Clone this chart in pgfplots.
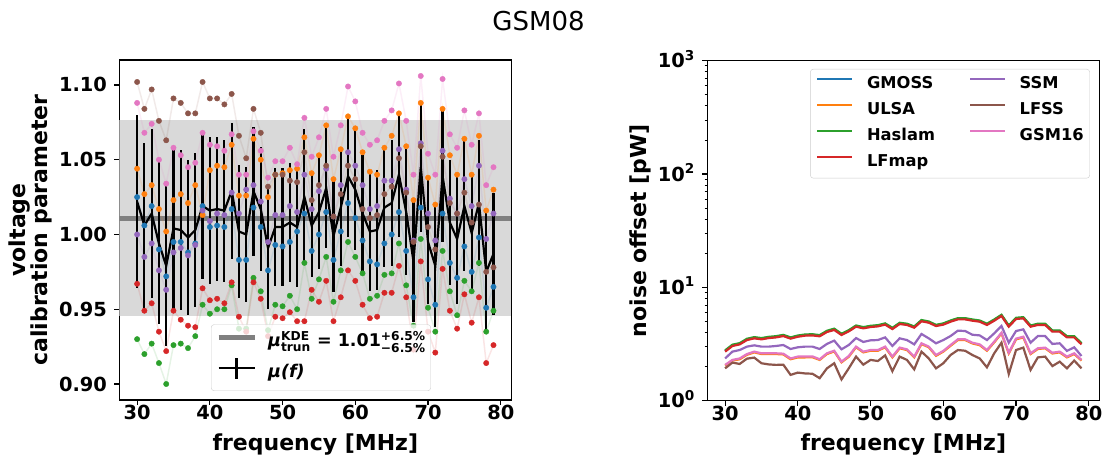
\documentclass[border=0pt]{standalone}
\usepackage{amsmath}
\usepackage{pgfplots}
\pgfplotsset{compat=1.18}
\usepackage{pgfplotstable}
\usepackage{fontspec}
\setmainfont{DejaVu Sans}[BoldFont={DejaVu Sans Bold},ItalicFont={DejaVu Sans Oblique},BoldItalicFont={DejaVu Sans Bold Oblique}]
\definecolor{tabblue}{HTML}{1F77B4}
\definecolor{taborange}{HTML}{FF7F0E}
\definecolor{tabgreen}{HTML}{2CA02C}
\definecolor{tabred}{HTML}{D62728}
\definecolor{tabpurple}{HTML}{9467BD}
\definecolor{tabbrown}{HTML}{8C564B}
\definecolor{tabpink}{HTML}{E377C2}
\definecolor{bandgray}{HTML}{D9D9D9}
\definecolor{linegray}{HTML}{808080}

% voltage calibration parameter per sky model, mean and std
\pgfplotstableread{
f br pk or bl pu rd gr m s
30 1.102 1.088 1.044 1.025 1.000 0.967 0.930 1.022 0.0576
31 1.084 1.068 1.027 1.006 0.985 0.949 0.920 1.006 0.0552
32 1.097 1.074 1.033 1.019 0.994 0.954 0.927 1.014 0.0566
33 1.076 1.050 1.017 0.990 0.976 0.935 0.914 0.994 0.0542
34 1.063 1.034 1.002 0.972 0.963 0.922 0.900 0.979 0.0537
35 1.091 1.058 1.023 0.995 0.988 0.949 0.926 1.004 0.0539
36 1.088 1.053 1.027 0.995 0.991 0.943 0.927 1.003 0.0532
37 1.081 1.045 1.021 0.988 0.986 0.939 0.924 0.998 0.0517
38 1.081 1.048 1.033 0.994 0.993 0.938 0.932 1.003 0.0514
39 1.102 1.068 1.013 1.019 1.016 0.964 0.953 1.019 0.0490
40 1.091 1.060 1.043 1.005 1.009 0.956 0.947 1.016 0.0491
41 1.091 1.059 1.046 1.006 1.014 0.957 0.950 1.017 0.0482
42 1.087 1.056 1.045 1.005 1.013 0.954 0.950 1.016 0.0475
43 1.094 1.067 1.060 1.017 1.028 0.968 0.966 1.029 0.0455
44 1.066 1.040 1.026 0.983 1.014 0.945 0.937 1.002 0.0446
45 1.051 1.040 1.026 0.983 1.030 0.935 0.937 1.000 0.0450
46 1.084 1.069 1.064 1.018 1.033 0.968 0.971 1.029 0.0431
47 1.068 1.056 1.050 1.005 1.022 0.957 0.962 1.017 0.0415
48 1.032 1.038 1.025 0.976 0.995 0.932 0.936 0.991 0.0410
49 1.040 1.049 1.040 0.993 1.013 0.945 0.953 1.005 0.0394
50 1.040 1.049 1.041 0.992 1.013 0.944 0.952 1.005 0.0397
51 1.036 1.058 1.043 0.995 1.019 0.948 0.959 1.008 0.0395
52 1.035 1.047 1.044 1.002 1.015 0.942 0.950 1.005 0.0403
53 1.055 1.078 1.065 1.014 1.040 0.942 0.981 1.025 0.0455
54 1.023 1.052 1.041 0.989 1.017 0.963 0.957 1.006 0.0342
55 1.033 1.065 1.053 1.000 1.029 0.955 0.970 1.015 0.0382
56 1.046 1.084 1.073 1.015 1.044 0.969 0.985 1.031 0.0399
57 1.012 1.052 1.037 0.983 1.012 0.942 0.955 0.999 0.0378
58 1.027 1.073 1.057 1.002 1.033 0.958 0.976 1.018 0.0388
59 1.046 1.099 1.079 1.021 1.055 0.976 0.995 1.039 0.0410
60 1.037 1.089 1.071 1.011 1.046 0.969 0.985 1.030 0.0406
61 1.017 1.068 1.055 0.996 1.033 0.953 0.974 1.014 0.0391
62 1.011 1.060 1.042 0.982 1.017 0.944 0.957 1.002 0.0397
63 1.013 1.063 1.040 0.980 1.019 0.945 0.959 1.003 0.0399
64 1.027 1.076 1.058 0.994 1.036 0.961 0.973 1.018 0.0400
65 1.032 1.083 1.066 1.000 1.036 0.961 0.974 1.021 0.0421
66 1.051 1.101 1.081 1.015 1.057 0.979 0.994 1.040 0.0419
67 1.028 1.076 1.059 0.989 1.030 0.958 0.966 1.015 0.0421
68 0.995 1.040 1.023 0.958 0.996 0.923 0.939 0.982 0.0403
69 1.059 1.106 1.088 1.018 1.061 0.982 0.997 1.045 0.0433
70 1.005 1.054 1.038 0.970 1.014 0.935 0.951 0.995 0.0415
71 0.990 1.040 1.020 0.953 0.996 0.921 0.935 0.979 0.0410
72 1.052 1.104 1.084 1.014 1.056 0.977 0.989 1.039 0.0442
73 1.021 1.067 1.053 0.981 1.024 0.949 0.962 1.008 0.0418
74 1.014 1.058 1.040 0.971 1.014 0.937 0.946 0.997 0.0432
75 1.028 1.083 1.064 0.992 1.037 0.960 0.969 1.019 0.0435
76 1.008 1.060 1.040 0.975 1.019 0.941 0.962 1.001 0.0400
77 1.020 1.081 1.066 0.998 1.046 0.958 0.981 1.021 0.0419
78 0.975 1.033 1.016 0.951 0.997 0.914 0.935 0.975 0.0404
79 0.978 1.045 1.030 0.965 1.014 0.926 0.949 0.987 0.0408
}\volt

% noise offset [pW] per sky model
\pgfplotstableread{
f gm ul ha lf ss ls gs
30 2.74 2.04 2.78 2.71 2.36 1.93 2.07
31 3.08 2.26 3.12 3.04 2.71 2.17 2.29
32 3.18 2.32 3.22 3.14 2.80 2.11 2.36
33 3.47 2.54 3.52 3.43 3.00 2.35 2.58
34 3.59 2.67 3.64 3.55 3.08 2.40 2.71
35 3.52 2.58 3.57 3.48 3.00 2.14 2.62
36 3.61 2.58 3.66 3.57 3.00 2.09 2.62
37 3.66 2.58 3.71 3.62 3.04 2.07 2.62
38 3.76 2.56 3.81 3.72 3.10 2.08 2.60
39 3.57 2.32 3.62 3.53 2.86 1.69 2.36
40 3.71 2.41 3.76 3.67 2.96 1.77 2.45
41 3.80 2.41 3.84 3.75 3.00 1.74 2.45
42 3.82 2.42 3.86 3.77 3.00 1.73 2.46
43 3.74 2.29 3.79 3.70 2.86 1.58 2.32
44 4.09 2.58 4.14 4.04 3.17 1.93 2.62
45 4.26 2.72 4.32 4.21 3.39 2.14 2.76
46 3.85 2.18 3.90 3.80 2.84 1.54 2.21
47 4.14 2.44 4.19 4.09 3.10 1.93 2.48
48 4.55 2.96 4.61 4.50 3.57 2.45 3.00
49 4.40 2.67 4.46 4.35 3.30 2.08 2.71
50 4.52 2.76 4.58 4.47 3.41 2.29 2.80
51 4.58 2.76 4.64 4.53 3.43 2.24 2.80
52 4.75 2.96 4.81 4.69 3.62 2.51 3.00
53 4.34 2.41 4.40 4.29 3.04 1.82 2.45
54 4.81 2.90 4.87 4.75 3.55 2.45 2.94
55 4.72 2.80 4.78 4.66 3.43 2.29 2.84
56 4.46 2.41 4.52 4.41 3.14 1.89 2.45
57 5.08 3.16 5.15 5.02 3.88 2.71 3.21
58 4.94 2.96 5.00 4.88 3.55 2.36 3.00
59 4.61 2.49 4.67 4.56 3.21 1.93 2.53
60 4.75 2.71 4.81 4.69 3.43 2.14 2.75
61 5.04 3.05 5.10 4.98 3.72 2.53 3.10
62 5.28 3.43 5.35 5.22 4.15 2.80 3.48
63 5.28 3.43 5.35 5.22 4.12 2.76 3.48
64 5.14 3.20 5.21 5.08 3.82 2.53 3.25
65 5.04 3.09 5.10 4.98 3.77 2.36 3.14
66 4.72 2.76 4.78 4.66 3.43 1.97 2.80
67 5.14 3.27 5.21 5.08 3.93 2.62 3.32
68 5.66 3.92 5.73 5.59 4.56 3.25 3.98
69 4.55 2.61 4.61 4.50 3.25 1.72 2.65
70 5.32 3.48 5.39 5.26 4.12 2.80 3.53
71 5.39 3.61 5.46 5.33 4.26 2.94 3.67
72 4.55 2.58 4.61 4.50 3.25 1.87 2.62
73 4.72 2.86 4.78 4.66 3.72 2.41 2.90
74 4.72 2.90 4.78 4.66 3.72 2.45 2.94
75 4.12 2.61 4.17 4.07 3.17 2.02 2.65
76 4.12 2.67 4.17 4.07 3.21 2.21 2.71
77 3.66 2.41 3.71 3.62 2.75 1.93 2.45
78 3.66 2.58 3.71 3.62 2.96 2.26 2.62
79 3.18 2.26 3.22 3.14 2.48 1.93 2.29
}\noise

\pgfplotsset{
  panel/.style={
    scale only axis, width=392pt, height=340pt,
    xmin=27.55, xmax=81.45,
    xtick={30,40,50,60,70,80},
    tick pos=left, tick align=outside,
    major tick length=4.9pt, minor tick length=2.8pt,
    major tick style={black, line width=1.1pt},
    minor tick style={black, line width=0.8pt},
    axis line style={line width=1.1pt},
    /pgf/number format/assume math mode=true,
    tick label style={font=\bfseries\fontsize{19.4}{20}\selectfont},
    xticklabel style={anchor=base, yshift=-15pt},
    yticklabel style={anchor=base east, yshift=-7pt, xshift=-4pt},
    label style={font=\bfseries\fontsize{22}{22}\selectfont},
    xlabel style={at={(axis description cs:0.5,0)}, anchor=base, yshift=-50pt},
  },
}

\begin{document}
\begin{tikzpicture}
\path[use as bounding box] (0pt,0pt) rectangle (1111pt,466pt);
\node[anchor=base, font=\fontsize{26}{26}\selectfont, inner sep=0pt] at (538.5pt,435pt) {GSM08};

\begin{axis}[panel,
  at={(119.3pt,66pt)}, anchor=south west,
  ymin=0.8893, ymax=1.1167,
  ytick={0.90,0.95,1.00,1.05,1.10},
  yticklabel style={/pgf/number format/.cd, fixed, fixed zerofill, precision=2},
  xlabel={frequency [MHz]},
  ylabel={voltage\\calibration parameter},
  ylabel style={align=center, font=\bfseries\fontsize{22}{21.7}\selectfont, at={(axis description cs:-0.172,0.5)}, anchor=south, inner sep=0pt},
  legend style={at={(axis description cs:0.234,0.0265)}, anchor=south west,
    draw=black!20, fill=white, fill opacity=0.8, text opacity=1, draw opacity=1,
    rounded corners=3pt, inner xsep=5pt, inner ysep=7pt,
    font=\bfseries\fontsize{17.5}{17.5}\selectfont,
    nodes={inner sep=0pt, text height=15pt, text depth=6pt},
    row sep=4pt,
    /tikz/every odd column/.append style={column sep=11pt}},
  legend cell align=left,
]
% band and truncated KDE mean
\addplot[fill=bandgray, draw=none, forget plot] coordinates {(27.55,0.9455) (81.45,0.9455) (81.45,1.0764) (27.55,1.0764)} -- cycle;
\addplot[linegray, line width=5pt, forget plot] coordinates {(27.55,1.0107) (81.45,1.0107)};
% faint connecting lines
\addplot[tabblue, opacity=0.12, line width=1.5pt, forget plot] table[x=f,y=bl] {\volt};
\addplot[taborange, opacity=0.12, line width=1.5pt, forget plot] table[x=f,y=or] {\volt};
\addplot[tabgreen, opacity=0.12, line width=1.5pt, forget plot] table[x=f,y=gr] {\volt};
\addplot[tabred, opacity=0.12, line width=1.5pt, forget plot] table[x=f,y=rd] {\volt};
\addplot[tabpurple, opacity=0.12, line width=1.5pt, forget plot] table[x=f,y=pu] {\volt};
\addplot[tabbrown, opacity=0.12, line width=1.5pt, forget plot] table[x=f,y=br] {\volt};
\addplot[tabpink, opacity=0.12, line width=1.5pt, forget plot] table[x=f,y=pk] {\volt};
% mean with error bars
\addplot[black, line width=2.2pt, forget plot,
  error bars/.cd, y dir=both, y explicit, error mark=none,
  error bar style={line width=2.2pt, black}]
  table[x=f, y=m, y error=s] {\volt};
% dots
\addplot[only marks, mark=*, mark size=2.7pt, color=tabblue, forget plot] table[x=f,y=bl] {\volt};
\addplot[only marks, mark=*, mark size=2.7pt, color=taborange, forget plot] table[x=f,y=or] {\volt};
\addplot[only marks, mark=*, mark size=2.7pt, color=tabgreen, forget plot] table[x=f,y=gr] {\volt};
\addplot[only marks, mark=*, mark size=2.7pt, color=tabred, forget plot] table[x=f,y=rd] {\volt};
\addplot[only marks, mark=*, mark size=2.7pt, color=tabpurple, forget plot] table[x=f,y=pu] {\volt};
\addplot[only marks, mark=*, mark size=2.7pt, color=tabbrown, forget plot] table[x=f,y=br] {\volt};
\addplot[only marks, mark=*, mark size=2.7pt, color=tabpink, forget plot] table[x=f,y=pk] {\volt};
% legend
\addlegendimage{legend image code/.code={\draw[linegray, line width=5pt] (0pt,5pt) -- (36pt,5pt);}}
\addlegendentry{{\itshape μ}$^{\text{\bfseries KDE}}_{\text{\bfseries trun}}$ = 1.01$^{\text{\bfseries +6.5\%}}_{\text{\bfseries −6.5\%}}$}
\addlegendimage{legend image code/.code={\draw[black, line width=2pt] (0pt,5pt) -- (36pt,5pt); \draw[black, line width=2.5pt] (18pt,-5.5pt) -- (18pt,15.5pt);}}
\addlegendentry{{\itshape μ(f)}}
\end{axis}

\begin{axis}[panel,
  at={(707.3pt,65.3pt)}, anchor=south west,
  ymode=log, ymin=1, ymax=1000,
  ytick={1,10,100,1000},
  yticklabels={10\textsuperscript{0},10\textsuperscript{1},10\textsuperscript{2},10\textsuperscript{3}},
  xlabel={frequency [MHz]},
  ylabel={noise offset [pW]},
  ylabel style={at={(axis description cs:-0.1436,0.5)}, anchor=south, inner sep=0pt},
  legend columns=2,
  legend style={at={(axis description cs:0.976,0.9756)}, anchor=north east,
    draw=black!20, fill=white, fill opacity=0.8, text opacity=1, draw opacity=1,
    rounded corners=3pt, inner xsep=6pt, inner ysep=7.5pt,
    font=\bfseries\fontsize{16.3}{16.3}\selectfont,
    nodes={inner sep=0pt, text height=12pt, text depth=4pt},
    row sep=10pt,
    /tikz/every odd column/.append style={column sep=13.5pt},
    /tikz/every even column/.append style={column sep=34pt}},
  legend cell align=left,
  legend image code/.code={\draw[#1] (0pt,5.8pt) -- (35pt,5.8pt);},
]
\addplot[tabblue, line width=2.2pt, forget plot] table[x=f,y=gm] {\noise};
\addplot[taborange, line width=2.2pt, forget plot] table[x=f,y=ul] {\noise};
\addplot[tabgreen, line width=2.2pt, forget plot] table[x=f,y=ha] {\noise};
\addplot[tabred, line width=2.2pt, forget plot] table[x=f,y=lf] {\noise};
\addplot[tabpurple, line width=2.2pt, forget plot] table[x=f,y=ss] {\noise};
\addplot[tabbrown, line width=2.2pt, forget plot] table[x=f,y=ls] {\noise};
\addplot[tabpink, line width=2.2pt, forget plot] table[x=f,y=gs] {\noise};
\addlegendimage{tabblue, line width=2.2pt}\addlegendentry{GMOSS}
\addlegendimage{tabpurple, line width=2.2pt}\addlegendentry{SSM}
\addlegendimage{taborange, line width=2.2pt}\addlegendentry{ULSA}
\addlegendimage{tabbrown, line width=2.2pt}\addlegendentry{LFSS}
\addlegendimage{tabgreen, line width=2.2pt}\addlegendentry{Haslam}
\addlegendimage{tabpink, line width=2.2pt}\addlegendentry{GSM16}
\addlegendimage{tabred, line width=2.2pt}\addlegendentry{LFmap}
\end{axis}
\end{tikzpicture}
\end{document}
